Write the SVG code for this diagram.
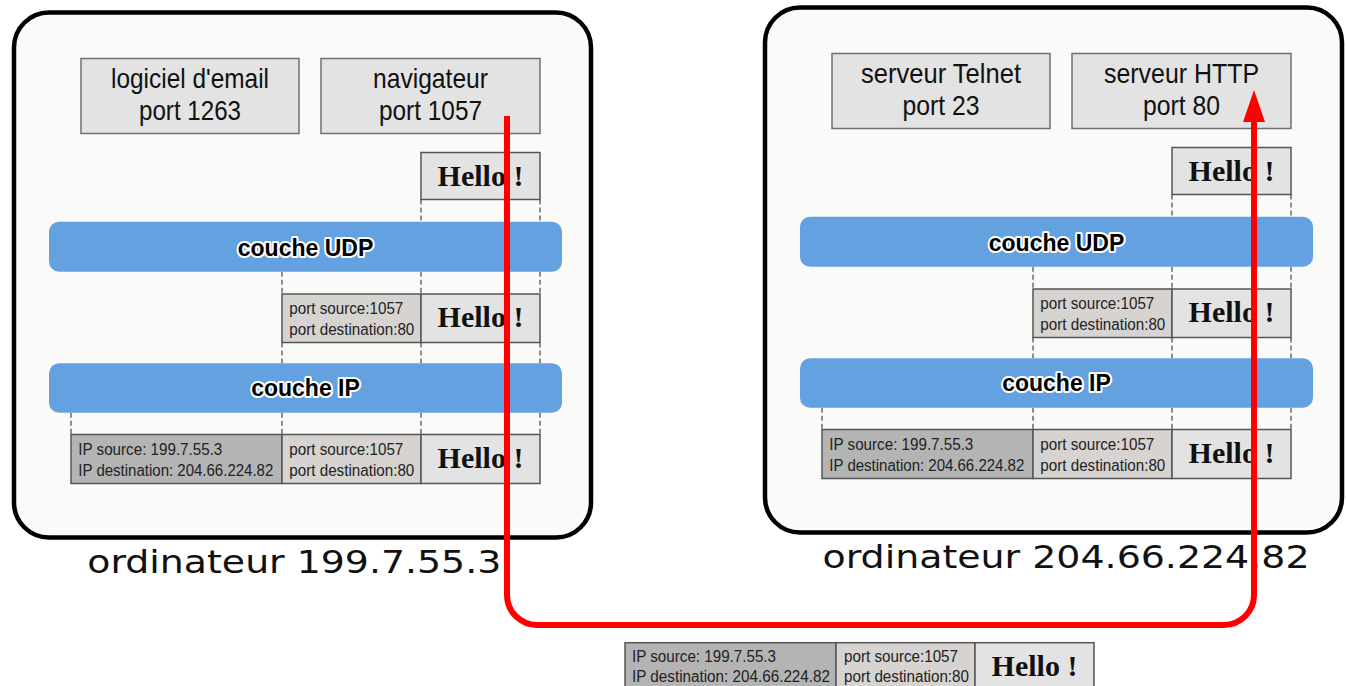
<svg xmlns="http://www.w3.org/2000/svg" width="1346" height="686" viewBox="0 0 1346 686">
<defs>
<style>
.computer{fill:#fafbf9;stroke:#000;stroke-width:4.5}
.app{fill:#e3e3e3;stroke:#707070;stroke-width:1.5}
.apptext{font-family:"Liberation Sans",Arial,sans-serif;font-size:28.5px;fill:#111;text-anchor:middle}
.hello{fill:#e3e3e3;stroke:#555;stroke-width:1.5}
.hellotext{font-family:"Liberation Serif","Times New Roman",serif;font-weight:bold;font-size:30px;fill:#111;text-anchor:middle}
.port{fill:#d6d3d1;stroke:#555;stroke-width:1.5}
.ip{fill:#b4b4b4;stroke:#555;stroke-width:1.5}
.small{font-family:"Liberation Sans",Arial,sans-serif;font-size:16px;fill:#222}
.bar{fill:#63a1e1}
.bartext{font-family:"Liberation Sans",Arial,sans-serif;font-weight:bold;font-size:23px;fill:#000;stroke:#fff;stroke-width:4;stroke-linejoin:round;paint-order:stroke;text-anchor:middle}
.dash{stroke:#444;stroke-width:1.2;stroke-dasharray:5 3;fill:none}
.label{font-family:"DejaVu Sans",Verdana,sans-serif;font-size:32px;fill:#111}
.wire{stroke:#f00;stroke-width:6;fill:none}
</style>
<marker id="arrow" viewBox="0 0 32 22" refX="1" refY="11" markerWidth="32" markerHeight="22" markerUnits="userSpaceOnUse" orient="auto">
<path d="M0,0 L32,11 L0,22 z" fill="#f00"/>
</marker>
</defs>
<rect width="1346" height="686" fill="#fff"/>

<!-- Left computer -->
<g id="computer-left">
<rect class="computer" x="14" y="12.5" width="577" height="525" rx="35"/>
<g id="app-email"><rect class="app" x="81" y="58.5" width="218" height="75"/>
<text class="apptext" x="190" y="87.5" textLength="158" lengthAdjust="spacingAndGlyphs">logiciel d'email</text>
<text class="apptext" x="190" y="120" textLength="102" lengthAdjust="spacingAndGlyphs">port 1263</text></g>
<g id="app-browser"><rect class="app" x="321" y="58.5" width="219" height="75"/>
<text class="apptext" x="430.5" y="87.5" textLength="115" lengthAdjust="spacingAndGlyphs">navigateur</text>
<text class="apptext" x="430.5" y="120" textLength="103" lengthAdjust="spacingAndGlyphs">port 1057</text></g>
<g id="left-data"><rect class="hello" x="421" y="152.5" width="119" height="47"/>
<text class="hellotext" x="480.5" y="185.5">Hello !</text></g>
<g id="left-dashes">
<path class="dash" d="M421,199.5V222M540,199.5V222M282,271.7V294M421,271.7V294M540,271.7V294M282,342.5V363.3M421,342.5V363.3M540,342.5V363.3M71,412.8V434.5M282,412.8V434.5M421,412.8V434.5M540,412.8V434.5"/>
</g>
<g id="left-udp"><rect class="bar" x="49" y="221.7" width="513" height="50" rx="10"/>
<text class="bartext" x="305.5" y="256">couche UDP</text></g>
<g id="left-udp-segment">
<rect class="port" x="282" y="294" width="139" height="48.5"/>
<rect class="hello" x="421" y="294" width="119" height="48.5"/>
<text class="small" x="289.3" y="314.3" textLength="114" lengthAdjust="spacingAndGlyphs">port source:1057</text>
<text class="small" x="289.3" y="335" textLength="125" lengthAdjust="spacingAndGlyphs">port destination:80</text>
<text class="hellotext" x="480.5" y="327">Hello !</text></g>
<g id="left-ip"><rect class="bar" x="49" y="363.3" width="513" height="49.5" rx="10"/>
<text class="bartext" x="305.5" y="396">couche IP</text></g>
<g id="left-ip-datagram">
<rect class="ip" x="71" y="434.5" width="211" height="49"/>
<rect class="port" x="282" y="434.5" width="139" height="49"/>
<rect class="hello" x="421" y="434.5" width="119" height="49"/>
<text class="small" x="78.3" y="455" textLength="144" lengthAdjust="spacingAndGlyphs">IP source: 199.7.55.3</text>
<text class="small" x="78.3" y="475.5" textLength="195" lengthAdjust="spacingAndGlyphs">IP destination: 204.66.224.82</text>
<text class="small" x="289.3" y="455" textLength="114" lengthAdjust="spacingAndGlyphs">port source:1057</text>
<text class="small" x="289.3" y="475.5" textLength="125" lengthAdjust="spacingAndGlyphs">port destination:80</text>
<text class="hellotext" x="480.5" y="468">Hello !</text></g>
</g>
<text id="label-left" class="label" x="87.3" y="572.5" textLength="414" lengthAdjust="spacingAndGlyphs">ordinateur 199.7.55.3</text>

<!-- Right computer -->
<g id="computer-right">
<rect class="computer" x="765" y="7.5" width="577" height="525" rx="35"/>
<g transform="translate(751,-5)">
<g id="app-telnet"><rect class="app" x="81" y="58.5" width="218" height="75"/>
<text class="apptext" x="190" y="87.5" textLength="160" lengthAdjust="spacingAndGlyphs">serveur Telnet</text>
<text class="apptext" x="190" y="120" textLength="77" lengthAdjust="spacingAndGlyphs">port 23</text></g>
<g id="app-http"><rect class="app" x="321" y="58.5" width="219" height="75"/>
<text class="apptext" x="430.5" y="87.5" textLength="155" lengthAdjust="spacingAndGlyphs">serveur HTTP</text>
<text class="apptext" x="430.5" y="120" textLength="77" lengthAdjust="spacingAndGlyphs">port 80</text></g>
<g id="right-data"><rect class="hello" x="421" y="152.5" width="119" height="47"/>
<text class="hellotext" x="480.5" y="185.5">Hello !</text></g>
<g id="right-dashes">
<path class="dash" d="M421,199.5V222M540,199.5V222M282,271.7V294M421,271.7V294M540,271.7V294M282,342.5V363.3M421,342.5V363.3M540,342.5V363.3M71,412.8V434.5M282,412.8V434.5M421,412.8V434.5M540,412.8V434.5"/>
</g>
<g id="right-udp"><rect class="bar" x="49" y="221.7" width="513" height="50" rx="10"/>
<text class="bartext" x="305.5" y="256">couche UDP</text></g>
<g id="right-udp-segment">
<rect class="port" x="282" y="294" width="139" height="48.5"/>
<rect class="hello" x="421" y="294" width="119" height="48.5"/>
<text class="small" x="289.3" y="314.3" textLength="114" lengthAdjust="spacingAndGlyphs">port source:1057</text>
<text class="small" x="289.3" y="335" textLength="125" lengthAdjust="spacingAndGlyphs">port destination:80</text>
<text class="hellotext" x="480.5" y="327">Hello !</text></g>
<g id="right-ip"><rect class="bar" x="49" y="363.3" width="513" height="49.5" rx="10"/>
<text class="bartext" x="305.5" y="396">couche IP</text></g>
<g id="right-ip-datagram">
<rect class="ip" x="71" y="434.5" width="211" height="49"/>
<rect class="port" x="282" y="434.5" width="139" height="49"/>
<rect class="hello" x="421" y="434.5" width="119" height="49"/>
<text class="small" x="78.3" y="455" textLength="144" lengthAdjust="spacingAndGlyphs">IP source: 199.7.55.3</text>
<text class="small" x="78.3" y="475.5" textLength="195" lengthAdjust="spacingAndGlyphs">IP destination: 204.66.224.82</text>
<text class="small" x="289.3" y="455" textLength="114" lengthAdjust="spacingAndGlyphs">port source:1057</text>
<text class="small" x="289.3" y="475.5" textLength="125" lengthAdjust="spacingAndGlyphs">port destination:80</text>
<text class="hellotext" x="480.5" y="468">Hello !</text></g>
</g>
</g>
<text id="label-right" class="label" x="822.5" y="567.5" textLength="487" lengthAdjust="spacingAndGlyphs">ordinateur 204.66.224.82</text>

<!-- Packet in transit -->
<g id="packet-transit">
<rect class="ip" x="625" y="642.7" width="211" height="49"/>
<rect class="port" x="836" y="642.7" width="139" height="49"/>
<rect class="hello" x="975" y="642.7" width="119" height="49"/>
<text class="small" x="632" y="662" textLength="144" lengthAdjust="spacingAndGlyphs">IP source: 199.7.55.3</text>
<text class="small" x="632" y="682" textLength="198" lengthAdjust="spacingAndGlyphs">IP destination: 204.66.224.82</text>
<text class="small" x="844" y="662" textLength="114" lengthAdjust="spacingAndGlyphs">port source:1057</text>
<text class="small" x="844" y="682" textLength="125" lengthAdjust="spacingAndGlyphs">port destination:80</text>
<text class="hellotext" x="1034.5" y="675.5">Hello !</text>
</g>

<!-- Connectors -->
<g id="connectors">
<path class="wire" d="M507,116 V595 A30,30 0 0 0 537,625 H1224 A30,30 0 0 0 1254,595 V121" marker-end="url(#arrow)"/>
</g>
</svg>
